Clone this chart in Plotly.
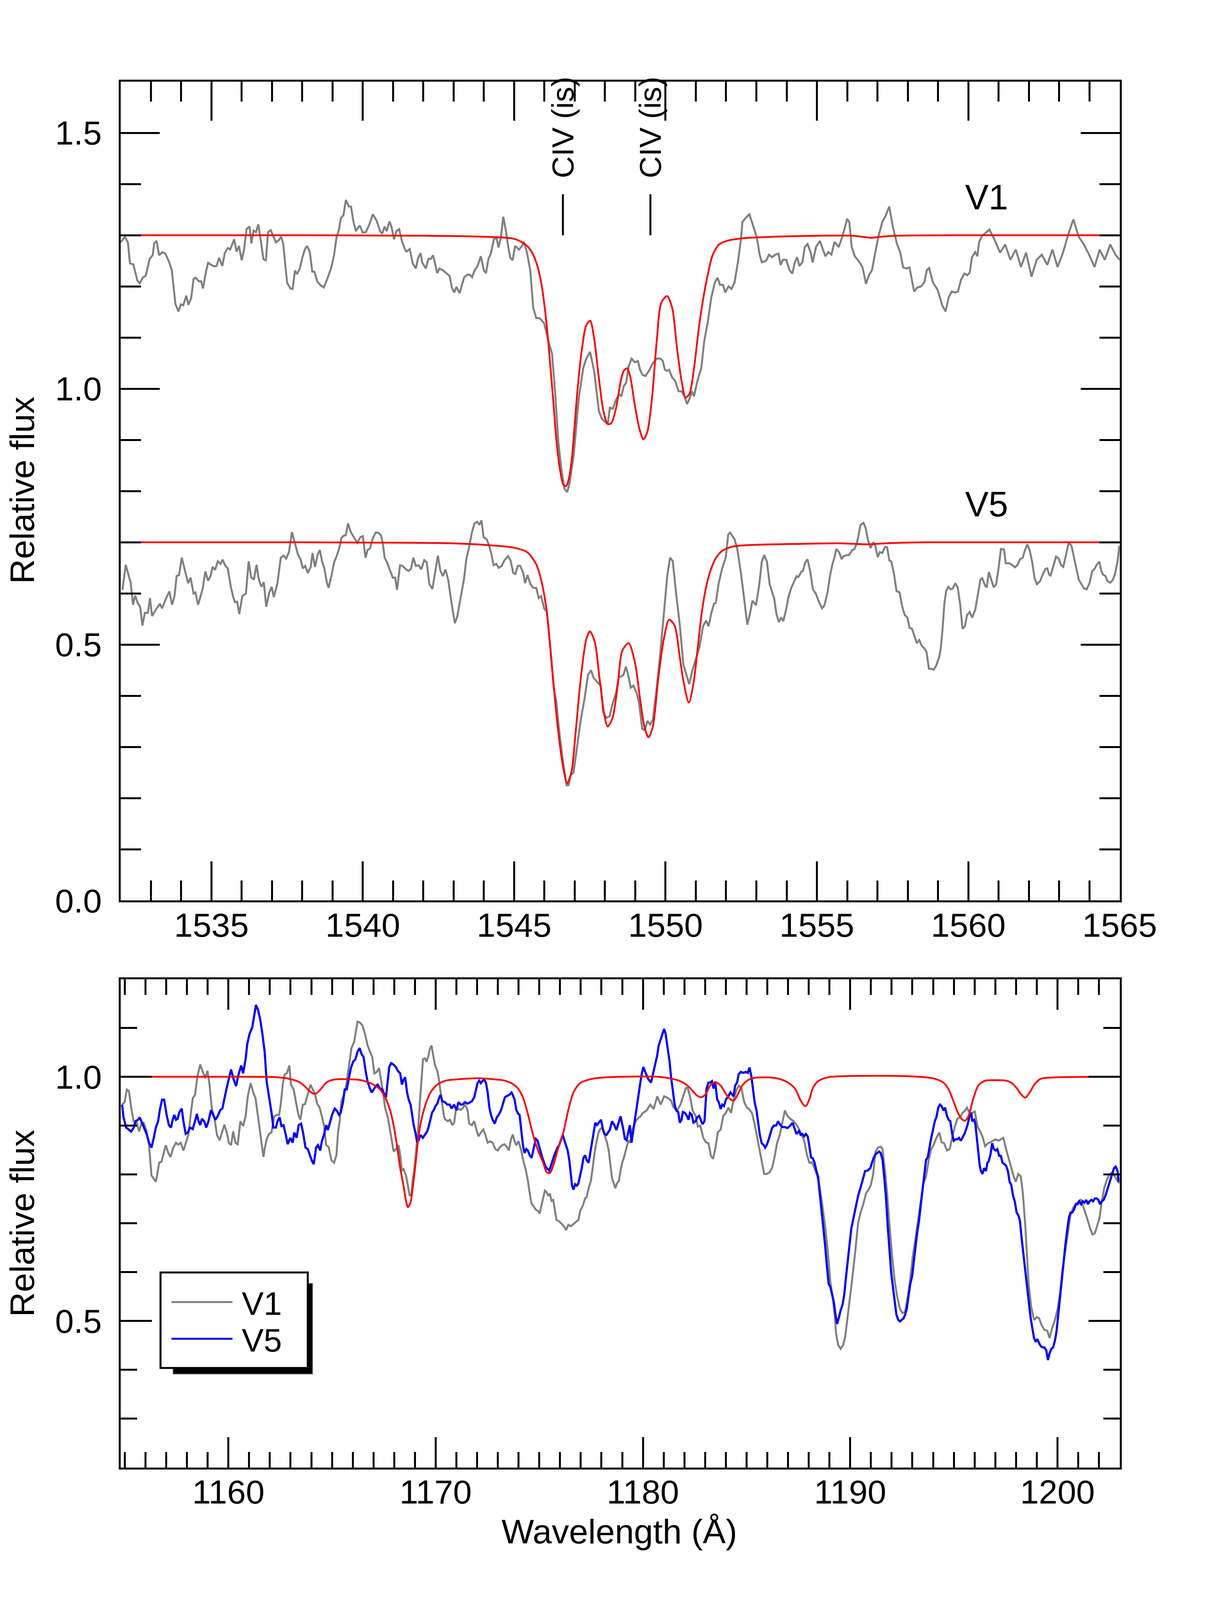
import plotly.graph_objects as go

FONT = "Liberation Sans, Arial, Helvetica, sans-serif"
W, H = 3121, 4370

# ---- upper panel: C IV 1548/1550 region (wavelength, relative flux) ----
civ_v1 = [
    (1532.00, 1.286), (1532.14, 1.297), (1532.24, 1.286), (1532.31, 1.245), (1532.42, 1.243), (1532.55, 1.212),
    (1532.63, 1.206), (1532.73, 1.217), (1532.83, 1.221), (1532.96, 1.254), (1533.06, 1.261), (1533.11, 1.284),
    (1533.19, 1.289), (1533.27, 1.261), (1533.38, 1.267), (1533.48, 1.264), (1533.60, 1.248), (1533.69, 1.232),
    (1533.81, 1.166), (1533.91, 1.151), (1533.99, 1.165), (1534.07, 1.163), (1534.17, 1.182), (1534.24, 1.164),
    (1534.33, 1.177), (1534.41, 1.215), (1534.48, 1.217), (1534.58, 1.210), (1534.66, 1.210), (1534.72, 1.196),
    (1534.82, 1.229), (1534.89, 1.246), (1534.99, 1.242), (1535.10, 1.239), (1535.17, 1.240), (1535.25, 1.256),
    (1535.36, 1.240), (1535.44, 1.265), (1535.54, 1.275), (1535.62, 1.272), (1535.75, 1.292), (1535.83, 1.268),
    (1535.91, 1.279), (1536.00, 1.251), (1536.08, 1.273), (1536.16, 1.312), (1536.26, 1.317), (1536.32, 1.284),
    (1536.39, 1.309), (1536.47, 1.306), (1536.55, 1.321), (1536.65, 1.283), (1536.72, 1.253), (1536.80, 1.251),
    (1536.87, 1.306), (1536.96, 1.310), (1537.06, 1.295), (1537.13, 1.286), (1537.22, 1.290), (1537.30, 1.297),
    (1537.37, 1.284), (1537.50, 1.207), (1537.61, 1.196), (1537.68, 1.195), (1537.76, 1.231), (1537.83, 1.224),
    (1537.92, 1.235), (1538.01, 1.258), (1538.09, 1.273), (1538.16, 1.279), (1538.25, 1.267), (1538.33, 1.229),
    (1538.40, 1.229), (1538.50, 1.209), (1538.61, 1.202), (1538.71, 1.198), (1538.81, 1.212), (1538.95, 1.235),
    (1539.05, 1.261), (1539.13, 1.295), (1539.21, 1.311), (1539.28, 1.334), (1539.36, 1.339), (1539.44, 1.369),
    (1539.54, 1.356), (1539.61, 1.356), (1539.69, 1.327), (1539.77, 1.308), (1539.90, 1.319), (1540.00, 1.305),
    (1540.10, 1.306), (1540.21, 1.320), (1540.33, 1.341), (1540.46, 1.328), (1540.57, 1.308), (1540.64, 1.303),
    (1540.72, 1.317), (1540.79, 1.308), (1540.88, 1.327), (1540.95, 1.316), (1541.03, 1.292), (1541.11, 1.308),
    (1541.20, 1.312), (1541.29, 1.289), (1541.39, 1.273), (1541.44, 1.268), (1541.55, 1.273), (1541.65, 1.245),
    (1541.75, 1.235), (1541.83, 1.256), (1541.91, 1.265), (1541.96, 1.247), (1542.08, 1.235), (1542.17, 1.254),
    (1542.25, 1.254), (1542.32, 1.261), (1542.46, 1.226), (1542.53, 1.235), (1542.66, 1.231), (1542.79, 1.224),
    (1542.87, 1.220), (1542.94, 1.198), (1543.02, 1.188), (1543.09, 1.199), (1543.20, 1.187), (1543.28, 1.204),
    (1543.35, 1.218), (1543.46, 1.223), (1543.53, 1.223), (1543.61, 1.218), (1543.69, 1.231), (1543.79, 1.240),
    (1543.90, 1.259), (1544.00, 1.231), (1544.07, 1.226), (1544.15, 1.254), (1544.23, 1.264), (1544.33, 1.292),
    (1544.42, 1.295), (1544.48, 1.276), (1544.56, 1.295), (1544.64, 1.336), (1544.72, 1.311), (1544.80, 1.279),
    (1544.87, 1.256), (1544.95, 1.251), (1545.03, 1.279), (1545.16, 1.272), (1545.26, 1.279), (1545.32, 1.287),
    (1545.42, 1.267), (1545.53, 1.232), (1545.63, 1.158), (1545.73, 1.138), (1545.84, 1.138), (1545.99, 1.128),
    (1546.15, 1.089), (1546.25, 1.069), (1546.35, 0.995), (1546.46, 0.896), (1546.56, 0.842), (1546.66, 0.805),
    (1546.75, 0.798), (1546.83, 0.815), (1546.97, 0.872), (1547.13, 0.980), (1547.28, 1.040), (1547.38, 1.059),
    (1547.51, 1.072), (1547.64, 1.035), (1547.80, 0.956), (1547.90, 0.941), (1548.00, 0.936), (1548.09, 0.931),
    (1548.16, 0.963), (1548.26, 0.961), (1548.36, 0.978), (1548.47, 0.990), (1548.54, 0.985), (1548.62, 1.005),
    (1548.70, 1.012), (1548.78, 1.044), (1548.88, 1.059), (1548.98, 1.052), (1549.09, 1.054), (1549.16, 1.037),
    (1549.24, 1.027), (1549.34, 1.025), (1549.45, 1.035), (1549.57, 1.049), (1549.71, 1.059), (1549.84, 1.059),
    (1549.91, 1.054), (1549.98, 1.037), (1550.05, 1.035), (1550.12, 1.037), (1550.22, 1.022), (1550.32, 1.015),
    (1550.43, 0.995), (1550.53, 0.995), (1550.63, 0.985), (1550.71, 0.970), (1550.79, 0.980), (1550.87, 0.995),
    (1550.94, 0.985), (1551.05, 1.015), (1551.18, 1.040), (1551.28, 1.094), (1551.39, 1.128), (1551.51, 1.178),
    (1551.63, 1.208), (1551.72, 1.217), (1551.80, 1.203), (1551.90, 1.203), (1551.97, 1.188), (1552.08, 1.200),
    (1552.18, 1.195), (1552.28, 1.208), (1552.39, 1.247), (1552.49, 1.292), (1552.54, 1.326), (1552.65, 1.334),
    (1552.77, 1.341), (1552.90, 1.316), (1553.01, 1.297), (1553.11, 1.262), (1553.18, 1.247), (1553.32, 1.250),
    (1553.42, 1.262), (1553.52, 1.257), (1553.62, 1.262), (1553.73, 1.264), (1553.80, 1.242), (1553.88, 1.252),
    (1553.99, 1.252), (1554.09, 1.232), (1554.19, 1.225), (1554.27, 1.247), (1554.35, 1.257), (1554.42, 1.240),
    (1554.52, 1.247), (1554.60, 1.277), (1554.69, 1.283), (1554.79, 1.267), (1554.86, 1.247), (1554.97, 1.277),
    (1555.10, 1.289), (1555.20, 1.272), (1555.28, 1.259), (1555.38, 1.267), (1555.48, 1.262), (1555.58, 1.287),
    (1555.72, 1.277), (1555.84, 1.297), (1555.95, 1.321), (1556.00, 1.332), (1556.07, 1.326), (1556.15, 1.277),
    (1556.25, 1.259), (1556.41, 1.247), (1556.51, 1.237), (1556.62, 1.205), (1556.72, 1.222), (1556.82, 1.232),
    (1556.93, 1.267), (1557.03, 1.297), (1557.16, 1.326), (1557.27, 1.338), (1557.39, 1.356), (1557.51, 1.316),
    (1557.65, 1.282), (1557.75, 1.267), (1557.85, 1.237), (1557.96, 1.235), (1558.06, 1.237), (1558.21, 1.190),
    (1558.32, 1.198), (1558.44, 1.200), (1558.55, 1.208), (1558.63, 1.232), (1558.71, 1.236), (1558.83, 1.208),
    (1558.99, 1.193), (1559.14, 1.163), (1559.25, 1.151), (1559.35, 1.178), (1559.45, 1.190), (1559.56, 1.188),
    (1559.66, 1.190), (1559.76, 1.213), (1559.87, 1.225), (1559.97, 1.222), (1560.05, 1.227), (1560.12, 1.257),
    (1560.23, 1.267), (1560.30, 1.259), (1560.36, 1.287), (1560.46, 1.299), (1560.70, 1.311), (1560.87, 1.291),
    (1561.05, 1.266), (1561.22, 1.282), (1561.39, 1.252), (1561.57, 1.272), (1561.74, 1.238), (1561.91, 1.266),
    (1562.09, 1.219), (1562.26, 1.252), (1562.43, 1.262), (1562.61, 1.242), (1562.78, 1.272), (1562.95, 1.238),
    (1563.13, 1.266), (1563.30, 1.301), (1563.47, 1.331), (1563.65, 1.297), (1563.82, 1.282), (1563.99, 1.262),
    (1564.17, 1.238), (1564.34, 1.272), (1564.51, 1.252), (1564.69, 1.282), (1564.86, 1.262), (1565.00, 1.252),
]

civ_v5 = [
    (1532.06, 0.607), (1532.17, 0.656), (1532.27, 0.634), (1532.33, 0.622), (1532.41, 0.578), (1532.48, 0.596),
    (1532.56, 0.582), (1532.65, 0.573), (1532.72, 0.537), (1532.80, 0.562), (1532.90, 0.562), (1532.97, 0.591),
    (1533.04, 0.556), (1533.16, 0.568), (1533.30, 0.580), (1533.37, 0.571), (1533.49, 0.589), (1533.61, 0.604),
    (1533.70, 0.578), (1533.78, 0.595), (1533.85, 0.634), (1533.93, 0.636), (1534.02, 0.670), (1534.11, 0.647),
    (1534.23, 0.620), (1534.31, 0.631), (1534.41, 0.600), (1534.47, 0.602), (1534.56, 0.578), (1534.71, 0.609),
    (1534.80, 0.643), (1534.89, 0.625), (1534.97, 0.634), (1535.04, 0.652), (1535.12, 0.646), (1535.21, 0.663),
    (1535.30, 0.658), (1535.37, 0.666), (1535.46, 0.654), (1535.54, 0.649), (1535.64, 0.613), (1535.72, 0.593),
    (1535.78, 0.583), (1535.85, 0.584), (1535.92, 0.560), (1536.02, 0.595), (1536.14, 0.600), (1536.23, 0.663),
    (1536.31, 0.632), (1536.40, 0.627), (1536.49, 0.656), (1536.56, 0.629), (1536.65, 0.613), (1536.73, 0.622),
    (1536.81, 0.574), (1536.91, 0.602), (1536.99, 0.613), (1537.06, 0.593), (1537.18, 0.620), (1537.29, 0.670),
    (1537.39, 0.674), (1537.47, 0.668), (1537.56, 0.681), (1537.66, 0.720), (1537.75, 0.701), (1537.86, 0.676),
    (1537.94, 0.667), (1538.02, 0.649), (1538.10, 0.654), (1538.18, 0.640), (1538.28, 0.652), (1538.34, 0.679),
    (1538.42, 0.652), (1538.51, 0.676), (1538.58, 0.685), (1538.66, 0.661), (1538.73, 0.649), (1538.81, 0.622),
    (1538.87, 0.611), (1538.97, 0.636), (1539.05, 0.661), (1539.13, 0.672), (1539.23, 0.690), (1539.29, 0.708),
    (1539.37, 0.713), (1539.44, 0.714), (1539.51, 0.737), (1539.59, 0.722), (1539.68, 0.712), (1539.77, 0.704),
    (1539.82, 0.699), (1539.92, 0.710), (1540.00, 0.712), (1540.09, 0.670), (1540.16, 0.685), (1540.24, 0.688),
    (1540.32, 0.706), (1540.42, 0.719), (1540.51, 0.719), (1540.60, 0.714), (1540.66, 0.699), (1540.72, 0.670),
    (1540.80, 0.661), (1540.90, 0.645), (1540.99, 0.631), (1541.07, 0.631), (1541.13, 0.607), (1541.23, 0.655),
    (1541.31, 0.654), (1541.43, 0.647), (1541.51, 0.644), (1541.59, 0.648), (1541.67, 0.670), (1541.75, 0.654),
    (1541.85, 0.655), (1541.93, 0.647), (1542.03, 0.665), (1542.11, 0.661), (1542.20, 0.618), (1542.30, 0.609),
    (1542.39, 0.640), (1542.48, 0.674), (1542.56, 0.645), (1542.65, 0.634), (1542.73, 0.647), (1542.82, 0.627),
    (1542.92, 0.586), (1543.04, 0.542), (1543.12, 0.555), (1543.22, 0.586), (1543.34, 0.627), (1543.42, 0.667),
    (1543.51, 0.690), (1543.61, 0.721), (1543.69, 0.737), (1543.78, 0.740), (1543.85, 0.734), (1543.92, 0.743),
    (1543.99, 0.710), (1544.09, 0.706), (1544.17, 0.694), (1544.25, 0.676), (1544.32, 0.655), (1544.41, 0.658),
    (1544.49, 0.650), (1544.59, 0.654), (1544.68, 0.665), (1544.80, 0.673), (1544.88, 0.665), (1544.97, 0.640),
    (1545.04, 0.638), (1545.12, 0.654), (1545.20, 0.654), (1545.30, 0.640), (1545.36, 0.620), (1545.44, 0.636),
    (1545.54, 0.618), (1545.63, 0.611), (1545.73, 0.611), (1545.81, 0.591), (1545.89, 0.595), (1545.99, 0.571),
    (1546.08, 0.564), (1546.19, 0.497), (1546.31, 0.414), (1546.39, 0.389), (1546.49, 0.330), (1546.61, 0.272),
    (1546.73, 0.225), (1546.79, 0.225), (1546.87, 0.245), (1546.96, 0.250), (1547.08, 0.299), (1547.20, 0.353),
    (1547.32, 0.393), (1547.44, 0.441), (1547.54, 0.450), (1547.62, 0.436), (1547.74, 0.427), (1547.86, 0.420),
    (1547.94, 0.369), (1548.04, 0.357), (1548.15, 0.360), (1548.25, 0.384), (1548.37, 0.407), (1548.45, 0.436),
    (1548.54, 0.438), (1548.61, 0.441), (1548.69, 0.457), (1548.75, 0.445), (1548.85, 0.416), (1548.94, 0.420),
    (1549.05, 0.405), (1549.13, 0.384), (1549.23, 0.335), (1549.32, 0.333), (1549.40, 0.351), (1549.49, 0.344),
    (1549.58, 0.353), (1549.70, 0.411), (1549.82, 0.479), (1549.94, 0.560), (1550.06, 0.636), (1550.15, 0.670),
    (1550.24, 0.663), (1550.35, 0.599), (1550.47, 0.539), (1550.59, 0.461), (1550.68, 0.442), (1550.78, 0.423),
    (1550.88, 0.448), (1551.00, 0.470), (1551.12, 0.495), (1551.24, 0.536), (1551.34, 0.547), (1551.42, 0.536),
    (1551.51, 0.561), (1551.60, 0.580), (1551.66, 0.582), (1551.75, 0.618), (1551.87, 0.649), (1551.99, 0.671),
    (1552.07, 0.715), (1552.13, 0.719), (1552.28, 0.706), (1552.37, 0.687), (1552.49, 0.640), (1552.59, 0.593),
    (1552.70, 0.539), (1552.79, 0.561), (1552.87, 0.586), (1552.99, 0.577), (1553.09, 0.615), (1553.18, 0.662),
    (1553.26, 0.675), (1553.35, 0.662), (1553.44, 0.618), (1553.54, 0.599), (1553.59, 0.590), (1553.66, 0.561),
    (1553.74, 0.544), (1553.82, 0.553), (1553.89, 0.546), (1553.98, 0.568), (1554.06, 0.593), (1554.16, 0.612),
    (1554.25, 0.624), (1554.33, 0.634), (1554.39, 0.632), (1554.49, 0.643), (1554.54, 0.644), (1554.61, 0.660),
    (1554.69, 0.667), (1554.78, 0.643), (1554.87, 0.608), (1554.97, 0.599), (1555.05, 0.586), (1555.17, 0.571),
    (1555.25, 0.577), (1555.35, 0.602), (1555.44, 0.637), (1555.52, 0.659), (1555.58, 0.670), (1555.64, 0.687),
    (1555.73, 0.681), (1555.82, 0.667), (1555.88, 0.673), (1556.00, 0.675), (1556.06, 0.675), (1556.16, 0.684),
    (1556.24, 0.687), (1556.30, 0.695), (1556.36, 0.709), (1556.44, 0.734), (1556.54, 0.738), (1556.61, 0.728),
    (1556.68, 0.706), (1556.77, 0.689), (1556.87, 0.700), (1556.93, 0.693), (1557.01, 0.671), (1557.08, 0.681),
    (1557.16, 0.679), (1557.25, 0.691), (1557.32, 0.690), (1557.39, 0.665), (1557.46, 0.662), (1557.55, 0.637),
    (1557.63, 0.605), (1557.73, 0.602), (1557.82, 0.574), (1557.90, 0.558), (1557.99, 0.553), (1558.06, 0.533),
    (1558.14, 0.531), (1558.23, 0.514), (1558.30, 0.503), (1558.38, 0.509), (1558.46, 0.498), (1558.56, 0.492),
    (1558.62, 0.486), (1558.70, 0.453), (1558.77, 0.453), (1558.86, 0.451), (1558.94, 0.459), (1559.04, 0.476),
    (1559.09, 0.492), (1559.15, 0.530), (1559.21, 0.580), (1559.27, 0.605), (1559.34, 0.613), (1559.42, 0.608),
    (1559.49, 0.610), (1559.57, 0.620), (1559.65, 0.612), (1559.73, 0.580), (1559.81, 0.531), (1559.89, 0.536),
    (1559.96, 0.558), (1560.05, 0.564), (1560.13, 0.553), (1560.23, 0.568), (1560.32, 0.599), (1560.40, 0.627),
    (1560.46, 0.630), (1560.56, 0.615), (1560.61, 0.612), (1560.68, 0.642), (1560.76, 0.627), (1560.84, 0.612),
    (1560.92, 0.618), (1561.00, 0.649), (1561.08, 0.687), (1561.18, 0.686), (1561.24, 0.659), (1561.36, 0.659),
    (1561.44, 0.656), (1561.54, 0.651), (1561.63, 0.656), (1561.71, 0.667), (1561.80, 0.670), (1561.87, 0.684),
    (1561.95, 0.696), (1562.03, 0.684), (1562.11, 0.662), (1562.19, 0.630), (1562.27, 0.618), (1562.37, 0.624),
    (1562.46, 0.637), (1562.55, 0.648), (1562.61, 0.649), (1562.67, 0.637), (1562.72, 0.635), (1562.82, 0.656),
    (1562.90, 0.672), (1562.99, 0.668), (1563.06, 0.656), (1563.14, 0.652), (1563.23, 0.675), (1563.32, 0.700),
    (1563.41, 0.693), (1563.50, 0.668), (1563.58, 0.643), (1563.65, 0.627), (1563.74, 0.618), (1563.82, 0.610),
    (1563.91, 0.608), (1564.01, 0.621), (1564.09, 0.643), (1564.18, 0.649), (1564.25, 0.657), (1564.33, 0.662),
    (1564.39, 0.645), (1564.45, 0.637), (1564.53, 0.634), (1564.60, 0.624), (1564.69, 0.621), (1564.77, 0.626),
    (1564.84, 0.637), (1564.93, 0.662), (1564.99, 0.693),
]

civ_v1_model = [
    (1532.00, 1.300), (1537.00, 1.300), (1542.00, 1.299), (1544.00, 1.297), (1545.00, 1.293), (1545.32, 1.284),
    (1545.53, 1.272), (1545.73, 1.247), (1545.89, 1.208), (1545.99, 1.168), (1546.10, 1.109), (1546.20, 1.040),
    (1546.30, 0.970), (1546.40, 0.896), (1546.52, 0.840), (1546.63, 0.812), (1546.72, 0.810), (1546.82, 0.828),
    (1546.92, 0.872), (1547.08, 0.990), (1547.23, 1.074), (1547.38, 1.124), (1547.51, 1.133), (1547.64, 1.099),
    (1547.80, 1.020), (1547.95, 0.956), (1548.09, 0.931), (1548.21, 0.933), (1548.36, 0.961), (1548.52, 1.015),
    (1548.62, 1.035), (1548.73, 1.040), (1548.83, 1.025), (1548.98, 0.970), (1549.14, 0.921), (1549.27, 0.901),
    (1549.40, 0.916), (1549.55, 0.980), (1549.71, 1.094), (1549.86, 1.168), (1550.05, 1.181), (1550.22, 1.158),
    (1550.38, 1.079), (1550.53, 1.015), (1550.66, 0.983), (1550.79, 0.990), (1550.94, 1.040), (1551.10, 1.119),
    (1551.25, 1.178), (1551.41, 1.227), (1551.56, 1.262), (1551.77, 1.282), (1552.03, 1.289), (1552.54, 1.294),
    (1553.57, 1.297), (1555.00, 1.299), (1556.20, 1.299), (1556.50, 1.297), (1556.77, 1.295), (1557.10, 1.297),
    (1557.60, 1.299), (1560.00, 1.300), (1565.00, 1.300),
]

civ_v5_model = [
    (1532.00, 0.700), (1538.00, 0.700), (1543.00, 0.698), (1544.00, 0.695), (1544.94, 0.690), (1545.42, 0.681),
    (1545.72, 0.658), (1545.89, 0.627), (1546.07, 0.568), (1546.25, 0.456), (1546.43, 0.344), (1546.61, 0.263),
    (1546.75, 0.229), (1546.90, 0.254), (1547.02, 0.322), (1547.20, 0.434), (1547.38, 0.510), (1547.50, 0.526),
    (1547.66, 0.506), (1547.82, 0.434), (1547.98, 0.362), (1548.09, 0.340), (1548.25, 0.357), (1548.42, 0.420),
    (1548.57, 0.488), (1548.78, 0.503), (1548.99, 0.465), (1549.17, 0.389), (1549.32, 0.335), (1549.44, 0.319),
    (1549.58, 0.340), (1549.76, 0.434), (1549.94, 0.510), (1550.12, 0.549), (1550.30, 0.537), (1550.47, 0.476),
    (1550.59, 0.429), (1550.77, 0.387), (1550.92, 0.423), (1551.06, 0.492), (1551.20, 0.564), (1551.36, 0.618),
    (1551.51, 0.649), (1551.68, 0.671), (1551.89, 0.684), (1552.25, 0.692), (1552.97, 0.695), (1554.51, 0.697),
    (1555.82, 0.698), (1556.66, 0.696), (1557.25, 0.698), (1558.68, 0.700), (1565.00, 0.700),
]

# interstellar C IV marks and star labels
is_marks = [1546.61, 1549.50]
is_text = "CIV (is)"
star_labels = [("V1", 1560.6, 1.374), ("V5", 1560.6, 0.774)]

# ---- lower panel: 1155-1203 A region ----
far_v1 = [
    (1154.87, 0.943), (1154.99, 0.948), (1155.10, 0.974), (1155.20, 0.971), (1155.31, 0.937), (1155.43, 0.909),
    (1155.56, 0.909), (1155.69, 0.888), (1155.80, 0.904), (1155.91, 0.906), (1156.04, 0.891), (1156.17, 0.860),
    (1156.29, 0.798), (1156.40, 0.792), (1156.50, 0.785), (1156.56, 0.798), (1156.66, 0.824), (1156.77, 0.826),
    (1156.89, 0.847), (1156.98, 0.860), (1157.10, 0.844), (1157.21, 0.836), (1157.34, 0.855), (1157.47, 0.865),
    (1157.58, 0.861), (1157.70, 0.865), (1157.83, 0.849), (1157.96, 0.868), (1158.07, 0.881), (1158.18, 0.922),
    (1158.28, 0.956), (1158.39, 0.963), (1158.51, 1.002), (1158.64, 1.025), (1158.77, 1.010), (1158.88, 0.997),
    (1158.99, 1.012), (1159.09, 0.984), (1159.20, 0.935), (1159.32, 0.917), (1159.45, 0.881), (1159.58, 0.870),
    (1159.69, 0.886), (1159.81, 0.902), (1159.94, 0.883), (1160.02, 0.865), (1160.13, 0.860), (1160.23, 0.888),
    (1160.34, 0.865), (1160.45, 0.862), (1160.58, 0.909), (1160.71, 0.899), (1160.83, 0.919), (1160.94, 0.961),
    (1161.07, 0.987), (1161.20, 0.968), (1161.31, 0.956), (1161.40, 0.927), (1161.53, 0.886), (1161.61, 0.860),
    (1161.69, 0.836), (1161.75, 0.852), (1161.85, 0.873), (1161.96, 0.883), (1162.08, 0.886), (1162.21, 0.919),
    (1162.34, 0.922), (1162.45, 0.922), (1162.53, 0.945), (1162.63, 0.987), (1162.72, 1.005), (1162.82, 1.007),
    (1162.94, 1.023), (1163.02, 0.984), (1163.15, 0.974), (1163.26, 0.948), (1163.38, 0.922), (1163.47, 0.912),
    (1163.59, 0.943), (1163.70, 0.944), (1163.83, 0.963), (1163.96, 0.984), (1164.07, 0.974), (1164.19, 0.963),
    (1164.28, 0.945), (1164.40, 0.937), (1164.51, 0.919), (1164.61, 0.901), (1164.72, 0.860), (1164.84, 0.856),
    (1164.97, 0.829), (1165.10, 0.824), (1165.21, 0.839), (1165.29, 0.886), (1165.37, 0.909), (1165.45, 0.950),
    (1165.58, 0.963), (1165.70, 0.987), (1165.78, 1.012), (1165.86, 1.036), (1165.94, 1.059), (1166.07, 1.072),
    (1166.13, 1.090), (1166.23, 1.113), (1166.34, 1.111), (1166.46, 1.106), (1166.59, 1.088), (1166.72, 1.064),
    (1166.83, 1.051), (1166.94, 1.041), (1167.04, 1.007), (1167.16, 1.010), (1167.27, 1.018), (1167.37, 0.994),
    (1167.48, 0.963), (1167.56, 0.937), (1167.69, 0.917), (1167.80, 0.891), (1167.89, 0.865), (1167.97, 0.847),
    (1168.08, 0.852), (1168.21, 0.860), (1168.29, 0.839), (1168.37, 0.808), (1168.45, 0.811), (1168.57, 0.798),
    (1168.66, 0.777), (1168.75, 0.756), (1168.83, 0.759), (1168.89, 0.787), (1168.99, 0.818), (1169.07, 0.855),
    (1169.15, 0.891), (1169.23, 0.943), (1169.31, 0.989), (1169.39, 1.036), (1169.48, 1.038), (1169.56, 1.031),
    (1169.64, 1.041), (1169.72, 1.057), (1169.80, 1.064), (1169.88, 1.046), (1169.96, 1.025), (1170.08, 1.012),
    (1170.16, 0.994), (1170.24, 0.968), (1170.32, 0.943), (1170.40, 0.919), (1170.48, 0.912), (1170.59, 0.909),
    (1170.69, 0.912), (1170.81, 0.901), (1170.89, 0.906), (1170.97, 0.930), (1171.10, 0.935), (1171.21, 0.932),
    (1171.29, 0.935), (1171.42, 0.943), (1171.54, 0.932), (1171.62, 0.904), (1171.75, 0.901), (1171.86, 0.909),
    (1171.97, 0.891), (1172.07, 0.878), (1172.18, 0.886), (1172.30, 0.892), (1172.40, 0.881), (1172.51, 0.865),
    (1172.62, 0.868), (1172.75, 0.865), (1172.88, 0.852), (1173.00, 0.849), (1173.08, 0.855), (1173.21, 0.860),
    (1173.32, 0.862), (1173.43, 0.857), (1173.53, 0.849), (1173.64, 0.873), (1173.72, 0.882), (1173.81, 0.868),
    (1173.89, 0.860), (1174.00, 0.868), (1174.13, 0.849), (1174.24, 0.826), (1174.34, 0.811), (1174.45, 0.787),
    (1174.54, 0.761), (1174.62, 0.741), (1174.70, 0.736), (1174.83, 0.728), (1174.94, 0.725), (1175.02, 0.720),
    (1175.10, 0.736), (1175.19, 0.751), (1175.27, 0.767), (1175.35, 0.764), (1175.43, 0.756), (1175.51, 0.761),
    (1175.59, 0.746), (1175.67, 0.748), (1175.75, 0.730), (1175.83, 0.707), (1175.96, 0.704), (1176.08, 0.699),
    (1176.19, 0.694), (1176.29, 0.686), (1176.40, 0.697), (1176.52, 0.694), (1176.65, 0.699), (1176.78, 0.704),
    (1176.89, 0.707), (1176.97, 0.725), (1177.10, 0.736), (1177.21, 0.751), (1177.29, 0.754), (1177.38, 0.772),
    (1177.49, 0.787), (1177.59, 0.818), (1177.65, 0.839), (1177.75, 0.865), (1177.86, 0.886), (1177.94, 0.893),
    (1178.02, 0.896), (1178.11, 0.886), (1178.19, 0.875), (1178.27, 0.865), (1178.35, 0.849), (1178.43, 0.818),
    (1178.51, 0.792), (1178.59, 0.782), (1178.67, 0.772), (1178.75, 0.782), (1178.84, 0.787), (1178.92, 0.808),
    (1179.00, 0.824), (1179.08, 0.834), (1179.16, 0.849), (1179.24, 0.860), (1179.32, 0.870), (1179.40, 0.865),
    (1179.49, 0.891), (1179.57, 0.901), (1179.70, 0.912), (1179.81, 0.917), (1179.89, 0.919), (1179.97, 0.925),
    (1180.18, 0.931), (1180.35, 0.943), (1180.52, 0.934), (1180.69, 0.960), (1180.86, 0.943), (1181.02, 0.960),
    (1181.19, 0.957), (1181.36, 0.951), (1181.48, 0.937), (1181.65, 0.931), (1181.81, 0.943), (1181.93, 0.960),
    (1182.07, 0.977), (1182.15, 0.978), (1182.27, 0.960), (1182.40, 0.931), (1182.54, 0.920), (1182.65, 0.898),
    (1182.77, 0.900), (1182.91, 0.875), (1183.04, 0.866), (1183.16, 0.864), (1183.28, 0.838), (1183.38, 0.832),
    (1183.49, 0.852), (1183.61, 0.886), (1183.75, 0.892), (1183.88, 0.920), (1184.00, 0.926), (1184.12, 0.937),
    (1184.25, 0.926), (1184.38, 0.954), (1184.50, 0.971), (1184.62, 0.982), (1184.75, 0.977), (1184.89, 0.948),
    (1185.01, 0.937), (1185.12, 0.934), (1185.26, 0.926), (1185.39, 0.903), (1185.51, 0.875), (1185.63, 0.847),
    (1185.73, 0.824), (1185.85, 0.801), (1185.96, 0.801), (1186.10, 0.804), (1186.23, 0.813), (1186.35, 0.835),
    (1186.47, 0.864), (1186.60, 0.881), (1186.74, 0.909), (1186.85, 0.931), (1186.97, 0.920), (1187.11, 0.914),
    (1187.27, 0.909), (1187.44, 0.900), (1187.61, 0.886), (1187.78, 0.869), (1187.91, 0.841), (1188.03, 0.824),
    (1188.15, 0.825), (1188.28, 0.813), (1188.42, 0.796), (1188.53, 0.773), (1188.65, 0.739), (1188.79, 0.694),
    (1188.92, 0.643), (1189.04, 0.581), (1189.16, 0.547), (1189.26, 0.508), (1189.32, 0.474), (1189.42, 0.451),
    (1189.54, 0.443), (1189.66, 0.451), (1189.76, 0.468), (1189.88, 0.508), (1190.00, 0.553), (1190.13, 0.598),
    (1190.26, 0.649), (1190.38, 0.700), (1190.50, 0.722), (1190.63, 0.739), (1190.77, 0.762), (1190.89, 0.769),
    (1191.00, 0.779), (1191.11, 0.801), (1191.22, 0.847), (1191.34, 0.855), (1191.48, 0.857), (1191.56, 0.852),
    (1191.68, 0.807), (1191.78, 0.762), (1191.89, 0.700), (1192.01, 0.638), (1192.15, 0.581), (1192.28, 0.547),
    (1192.40, 0.525), (1192.52, 0.516), (1192.65, 0.519), (1192.79, 0.553), (1192.90, 0.587), (1193.02, 0.632),
    (1193.16, 0.672), (1193.29, 0.711), (1193.41, 0.751), (1193.52, 0.779), (1193.66, 0.796), (1193.79, 0.830),
    (1193.91, 0.852), (1194.03, 0.861), (1194.16, 0.875), (1194.30, 0.886), (1194.41, 0.866), (1194.53, 0.864),
    (1194.67, 0.849), (1194.80, 0.852), (1194.92, 0.875), (1195.04, 0.897), (1195.17, 0.914), (1195.30, 0.917),
    (1195.42, 0.926), (1195.54, 0.931), (1195.64, 0.937), (1195.76, 0.926), (1195.88, 0.926), (1196.01, 0.929),
    (1196.15, 0.897), (1196.26, 0.889), (1196.38, 0.878), (1196.51, 0.858), (1196.65, 0.864), (1196.77, 0.866),
    (1196.88, 0.869), (1197.02, 0.872), (1197.15, 0.869), (1197.27, 0.872), (1197.39, 0.875), (1197.52, 0.852),
    (1197.66, 0.830), (1197.77, 0.813), (1197.89, 0.796), (1197.99, 0.785), (1198.11, 0.801), (1198.23, 0.796),
    (1198.33, 0.762), (1198.45, 0.694), (1198.53, 0.626), (1198.61, 0.576), (1198.73, 0.530), (1198.87, 0.502),
    (1199.00, 0.508), (1199.12, 0.505), (1199.24, 0.491), (1199.37, 0.482), (1199.51, 0.480), (1199.62, 0.465),
    (1199.74, 0.485), (1199.88, 0.502), (1200.01, 0.525), (1200.13, 0.558), (1200.24, 0.604), (1200.38, 0.643),
    (1200.51, 0.683), (1200.63, 0.717), (1200.75, 0.731), (1200.88, 0.739), (1201.02, 0.745), (1201.13, 0.748),
    (1201.25, 0.734), (1201.35, 0.722), (1201.47, 0.705), (1201.59, 0.688), (1201.69, 0.677), (1201.81, 0.680),
    (1201.92, 0.694), (1202.03, 0.711), (1202.14, 0.745), (1202.26, 0.773), (1202.39, 0.790), (1202.53, 0.801),
    (1202.65, 0.804), (1202.76, 0.796), (1202.90, 0.787), (1202.98, 0.782),
]

far_v5 = [
    (1154.87, 0.943), (1154.94, 0.917), (1155.07, 0.896), (1155.20, 0.891), (1155.31, 0.888), (1155.43, 0.896),
    (1155.52, 0.909), (1155.64, 0.912), (1155.72, 0.917), (1155.85, 0.904), (1155.96, 0.891), (1156.07, 0.881),
    (1156.17, 0.865), (1156.29, 0.855), (1156.40, 0.875), (1156.50, 0.896), (1156.61, 0.909), (1156.69, 0.932),
    (1156.80, 0.953), (1156.90, 0.953), (1157.02, 0.922), (1157.13, 0.901), (1157.23, 0.896), (1157.31, 0.912),
    (1157.39, 0.922), (1157.47, 0.912), (1157.55, 0.914), (1157.63, 0.927), (1157.75, 0.935), (1157.83, 0.909),
    (1157.94, 0.883), (1158.04, 0.886), (1158.15, 0.896), (1158.28, 0.893), (1158.39, 0.909), (1158.48, 0.924),
    (1158.56, 0.909), (1158.64, 0.901), (1158.72, 0.914), (1158.83, 0.909), (1158.93, 0.896), (1159.04, 0.909),
    (1159.16, 0.932), (1159.26, 0.922), (1159.37, 0.912), (1159.48, 0.919), (1159.61, 0.932), (1159.71, 0.935),
    (1159.81, 0.958), (1159.90, 0.974), (1160.00, 0.992), (1160.13, 1.015), (1160.26, 0.994), (1160.37, 0.981),
    (1160.49, 1.005), (1160.62, 1.023), (1160.71, 1.007), (1160.83, 1.036), (1160.91, 1.067), (1161.02, 1.088),
    (1161.15, 1.101), (1161.23, 1.124), (1161.33, 1.147), (1161.43, 1.137), (1161.53, 1.119), (1161.64, 1.088),
    (1161.75, 1.051), (1161.85, 0.989), (1161.92, 0.971), (1162.01, 0.950), (1162.08, 0.927), (1162.17, 0.896),
    (1162.29, 0.896), (1162.37, 0.909), (1162.47, 0.917), (1162.56, 0.899), (1162.66, 0.901), (1162.77, 0.881),
    (1162.86, 0.862), (1162.99, 0.875), (1163.10, 0.865), (1163.18, 0.886), (1163.29, 0.875), (1163.39, 0.901),
    (1163.51, 0.904), (1163.60, 0.886), (1163.72, 0.855), (1163.83, 0.852), (1163.93, 0.839), (1164.02, 0.829),
    (1164.12, 0.821), (1164.23, 0.855), (1164.32, 0.860), (1164.43, 0.849), (1164.51, 0.868), (1164.61, 0.881),
    (1164.72, 0.901), (1164.80, 0.891), (1164.90, 0.906), (1165.00, 0.922), (1165.13, 0.935), (1165.24, 0.930),
    (1165.34, 0.922), (1165.42, 0.927), (1165.53, 0.948), (1165.61, 0.974), (1165.71, 0.974), (1165.81, 0.999),
    (1165.91, 1.018), (1166.02, 1.031), (1166.13, 1.036), (1166.23, 1.051), (1166.33, 1.059), (1166.43, 1.046),
    (1166.52, 1.041), (1166.62, 1.012), (1166.72, 0.989), (1166.83, 0.976), (1166.91, 0.968), (1167.01, 0.974),
    (1167.11, 0.981), (1167.20, 0.984), (1167.32, 0.976), (1167.43, 0.974), (1167.53, 0.963), (1167.61, 0.961),
    (1167.69, 0.994), (1167.76, 1.020), (1167.85, 1.028), (1167.97, 1.025), (1168.08, 1.020), (1168.18, 1.012),
    (1168.29, 1.007), (1168.37, 0.984), (1168.45, 0.994), (1168.53, 0.999), (1168.62, 0.968), (1168.70, 0.953),
    (1168.79, 0.943), (1168.86, 0.922), (1168.94, 0.901), (1169.02, 0.886), (1169.10, 0.868), (1169.18, 0.870),
    (1169.26, 0.881), (1169.38, 0.875), (1169.48, 0.881), (1169.59, 0.888), (1169.67, 0.899), (1169.75, 0.912),
    (1169.83, 0.927), (1169.91, 0.932), (1169.99, 0.940), (1170.08, 0.945), (1170.16, 0.956), (1170.24, 0.963),
    (1170.32, 0.950), (1170.45, 0.948), (1170.56, 0.943), (1170.68, 0.943), (1170.77, 0.935), (1170.89, 0.943),
    (1171.00, 0.932), (1171.10, 0.948), (1171.21, 0.943), (1171.29, 0.943), (1171.42, 0.948), (1171.54, 0.945),
    (1171.65, 0.948), (1171.75, 0.950), (1171.86, 0.958), (1171.94, 0.971), (1172.02, 0.987), (1172.10, 0.992),
    (1172.18, 0.987), (1172.27, 0.992), (1172.35, 0.994), (1172.43, 0.987), (1172.51, 0.968), (1172.59, 0.937),
    (1172.67, 0.922), (1172.75, 0.912), (1172.85, 0.904), (1172.95, 0.917), (1173.04, 0.922), (1173.16, 0.932),
    (1173.24, 0.945), (1173.34, 0.958), (1173.45, 0.961), (1173.56, 0.963), (1173.66, 0.968), (1173.72, 0.963),
    (1173.81, 0.953), (1173.89, 0.932), (1173.99, 0.924), (1174.05, 0.922), (1174.13, 0.891), (1174.21, 0.860),
    (1174.29, 0.844), (1174.37, 0.852), (1174.45, 0.849), (1174.54, 0.839), (1174.63, 0.834), (1174.73, 0.855),
    (1174.83, 0.873), (1174.91, 0.870), (1174.99, 0.857), (1175.07, 0.844), (1175.15, 0.834), (1175.23, 0.824),
    (1175.31, 0.816), (1175.40, 0.811), (1175.48, 0.808), (1175.56, 0.818), (1175.64, 0.829), (1175.72, 0.839),
    (1175.80, 0.847), (1175.88, 0.855), (1175.96, 0.860), (1176.05, 0.873), (1176.13, 0.881), (1176.21, 0.870),
    (1176.29, 0.860), (1176.37, 0.849), (1176.45, 0.829), (1176.52, 0.798), (1176.58, 0.777), (1176.65, 0.769),
    (1176.73, 0.780), (1176.81, 0.777), (1176.89, 0.782), (1176.97, 0.798), (1177.05, 0.813), (1177.13, 0.834),
    (1177.21, 0.839), (1177.29, 0.829), (1177.38, 0.824), (1177.46, 0.844), (1177.54, 0.865), (1177.62, 0.891),
    (1177.70, 0.906), (1177.78, 0.901), (1177.88, 0.906), (1177.98, 0.912), (1178.07, 0.893), (1178.15, 0.883),
    (1178.24, 0.881), (1178.32, 0.886), (1178.40, 0.891), (1178.51, 0.909), (1178.62, 0.901), (1178.72, 0.891),
    (1178.84, 0.909), (1178.92, 0.919), (1179.05, 0.893), (1179.13, 0.873), (1179.21, 0.870), (1179.29, 0.888),
    (1179.37, 0.901), (1179.45, 0.865), (1179.53, 0.891), (1179.61, 0.912), (1179.70, 0.937), (1179.78, 0.963),
    (1179.86, 0.984), (1179.94, 1.005), (1180.02, 1.020), (1180.13, 1.008), (1180.25, 0.996), (1180.39, 0.988),
    (1180.47, 1.002), (1180.59, 1.022), (1180.69, 1.044), (1180.76, 1.064), (1180.86, 1.078), (1180.94, 1.087),
    (1181.02, 1.098), (1181.09, 1.089), (1181.19, 1.061), (1181.28, 1.033), (1181.36, 0.999), (1181.44, 0.971),
    (1181.53, 0.943), (1181.61, 0.931), (1181.70, 0.928), (1181.78, 0.906), (1181.86, 0.912), (1181.93, 0.928),
    (1182.03, 0.926), (1182.12, 0.920), (1182.20, 0.912), (1182.27, 0.926), (1182.35, 0.923), (1182.44, 0.906),
    (1182.54, 0.909), (1182.62, 0.917), (1182.71, 0.920), (1182.79, 0.912), (1182.87, 0.903), (1182.97, 0.909),
    (1183.07, 0.976), (1183.16, 0.988), (1183.24, 0.988), (1183.33, 0.991), (1183.41, 0.976), (1183.49, 0.988),
    (1183.58, 0.954), (1183.66, 0.948), (1183.75, 0.934), (1183.83, 0.943), (1183.91, 0.940), (1184.01, 0.954),
    (1184.12, 0.960), (1184.22, 0.968), (1184.28, 0.965), (1184.37, 0.960), (1184.45, 0.982), (1184.54, 0.988),
    (1184.62, 1.005), (1184.72, 1.010), (1184.84, 1.008), (1184.96, 1.010), (1185.06, 1.008), (1185.14, 1.019),
    (1185.23, 1.002), (1185.31, 0.976), (1185.39, 0.948), (1185.48, 0.931), (1185.56, 0.903), (1185.64, 0.881),
    (1185.73, 0.864), (1185.81, 0.861), (1185.90, 0.855), (1185.98, 0.861), (1186.07, 0.872), (1186.15, 0.883),
    (1186.23, 0.895), (1186.32, 0.900), (1186.43, 0.900), (1186.52, 0.909), (1186.60, 0.903), (1186.72, 0.897),
    (1186.85, 0.897), (1186.97, 0.895), (1187.11, 0.900), (1187.22, 0.906), (1187.31, 0.895), (1187.41, 0.883),
    (1187.53, 0.889), (1187.61, 0.881), (1187.69, 0.883), (1187.78, 0.878), (1187.86, 0.883), (1187.95, 0.878),
    (1188.03, 0.858), (1188.11, 0.835), (1188.20, 0.833), (1188.28, 0.824), (1188.37, 0.807), (1188.45, 0.796),
    (1188.53, 0.762), (1188.62, 0.728), (1188.70, 0.694), (1188.79, 0.655), (1188.87, 0.615), (1188.96, 0.576),
    (1189.04, 0.570), (1189.12, 0.553), (1189.21, 0.539), (1189.29, 0.513), (1189.37, 0.494), (1189.46, 0.508),
    (1189.54, 0.522), (1189.63, 0.533), (1189.71, 0.553), (1189.79, 0.587), (1189.88, 0.621), (1189.96, 0.655),
    (1190.05, 0.688), (1190.13, 0.705), (1190.26, 0.734), (1190.38, 0.756), (1190.50, 0.773), (1190.60, 0.790),
    (1190.72, 0.807), (1190.84, 0.808), (1190.97, 0.813), (1191.05, 0.824), (1191.14, 0.835), (1191.22, 0.841),
    (1191.31, 0.844), (1191.39, 0.847), (1191.47, 0.844), (1191.56, 0.830), (1191.64, 0.796), (1191.73, 0.751),
    (1191.81, 0.694), (1191.89, 0.649), (1191.98, 0.598), (1192.06, 0.570), (1192.15, 0.542), (1192.23, 0.513),
    (1192.32, 0.502), (1192.40, 0.499), (1192.48, 0.502), (1192.57, 0.505), (1192.65, 0.513), (1192.73, 0.525),
    (1192.82, 0.553), (1192.90, 0.576), (1192.99, 0.592), (1193.07, 0.626), (1193.16, 0.655), (1193.24, 0.683),
    (1193.32, 0.705), (1193.41, 0.739), (1193.49, 0.767), (1193.58, 0.801), (1193.66, 0.830), (1193.74, 0.835),
    (1193.83, 0.858), (1193.91, 0.875), (1194.00, 0.892), (1194.08, 0.909), (1194.16, 0.917), (1194.25, 0.937),
    (1194.33, 0.943), (1194.41, 0.940), (1194.50, 0.931), (1194.58, 0.937), (1194.67, 0.920), (1194.75, 0.912),
    (1194.83, 0.909), (1194.92, 0.883), (1195.00, 0.869), (1195.09, 0.872), (1195.17, 0.872), (1195.25, 0.875),
    (1195.34, 0.869), (1195.42, 0.875), (1195.51, 0.883), (1195.59, 0.892), (1195.67, 0.903), (1195.76, 0.920),
    (1195.84, 0.926), (1195.89, 0.909), (1195.98, 0.912), (1196.04, 0.903), (1196.11, 0.875), (1196.18, 0.847),
    (1196.25, 0.818), (1196.31, 0.807), (1196.38, 0.801), (1196.46, 0.813), (1196.55, 0.807), (1196.62, 0.824),
    (1196.68, 0.827), (1196.77, 0.841), (1196.85, 0.864), (1196.93, 0.852), (1197.02, 0.849), (1197.10, 0.852),
    (1197.19, 0.838), (1197.27, 0.838), (1197.35, 0.824), (1197.44, 0.821), (1197.52, 0.818), (1197.61, 0.807),
    (1197.69, 0.785), (1197.77, 0.779), (1197.86, 0.756), (1197.94, 0.745), (1198.03, 0.722), (1198.11, 0.717),
    (1198.19, 0.705), (1198.28, 0.666), (1198.36, 0.638), (1198.45, 0.604), (1198.53, 0.570), (1198.61, 0.542),
    (1198.70, 0.508), (1198.78, 0.485), (1198.87, 0.465), (1198.95, 0.457), (1199.03, 0.463), (1199.12, 0.454),
    (1199.20, 0.448), (1199.29, 0.446), (1199.37, 0.446), (1199.46, 0.440), (1199.54, 0.420), (1199.62, 0.434),
    (1199.71, 0.443), (1199.79, 0.446), (1199.88, 0.460), (1199.96, 0.480), (1200.04, 0.513), (1200.13, 0.553),
    (1200.21, 0.592), (1200.29, 0.626), (1200.38, 0.655), (1200.46, 0.683), (1200.55, 0.711), (1200.63, 0.722),
    (1200.71, 0.722), (1200.80, 0.728), (1200.88, 0.739), (1200.97, 0.739), (1201.05, 0.745), (1201.14, 0.739),
    (1201.22, 0.745), (1201.30, 0.742), (1201.39, 0.748), (1201.47, 0.739), (1201.55, 0.745), (1201.64, 0.748),
    (1201.72, 0.745), (1201.81, 0.751), (1201.89, 0.751), (1201.97, 0.748), (1202.06, 0.739), (1202.14, 0.745),
    (1202.23, 0.748), (1202.31, 0.756), (1202.39, 0.767), (1202.48, 0.779), (1202.56, 0.790), (1202.65, 0.801),
    (1202.73, 0.813), (1202.81, 0.816), (1202.90, 0.807), (1202.95, 0.785),
]

far_model = [
    (1154.87, 1.000), (1159.45, 1.000), (1162.37, 0.999), (1163.02, 0.995), (1163.43, 0.989), (1163.67, 0.981),
    (1163.91, 0.971), (1164.07, 0.966), (1164.24, 0.966), (1164.48, 0.976), (1164.72, 0.988), (1164.97, 0.993),
    (1165.29, 0.995), (1165.78, 0.995), (1166.26, 0.994), (1166.67, 0.990), (1167.00, 0.984), (1167.32, 0.974),
    (1167.56, 0.958), (1167.80, 0.932), (1167.97, 0.901), (1168.13, 0.860), (1168.29, 0.813), (1168.45, 0.777),
    (1168.57, 0.746), (1168.66, 0.733), (1168.78, 0.741), (1168.89, 0.772), (1169.02, 0.818), (1169.15, 0.870),
    (1169.31, 0.912), (1169.51, 0.943), (1169.75, 0.968), (1170.08, 0.984), (1170.48, 0.992), (1171.13, 0.995),
    (1172.10, 0.997), (1172.75, 0.995), (1173.24, 0.993), (1173.65, 0.987), (1173.97, 0.976), (1174.21, 0.958),
    (1174.46, 0.922), (1174.70, 0.881), (1174.94, 0.849), (1175.19, 0.824), (1175.35, 0.805), (1175.51, 0.803),
    (1175.67, 0.818), (1175.92, 0.855), (1176.16, 0.886), (1176.40, 0.932), (1176.65, 0.968), (1176.97, 0.987),
    (1177.46, 0.995), (1178.27, 0.999), (1180.72, 1.000), (1181.39, 0.996), (1181.81, 0.991), (1182.15, 0.982),
    (1182.40, 0.971), (1182.60, 0.962), (1182.82, 0.958), (1183.04, 0.965), (1183.24, 0.982), (1183.49, 0.989),
    (1183.75, 0.982), (1184.00, 0.965), (1184.22, 0.954), (1184.38, 0.951), (1184.59, 0.965), (1184.79, 0.982),
    (1185.06, 0.993), (1185.43, 0.998), (1186.27, 0.998), (1186.77, 0.993), (1187.11, 0.985), (1187.36, 0.974),
    (1187.58, 0.954), (1187.74, 0.943), (1187.86, 0.940), (1188.03, 0.954), (1188.20, 0.977), (1188.45, 0.991),
    (1188.95, 0.999), (1191.64, 1.002), (1193.32, 1.000), (1194.08, 0.996), (1194.50, 0.988), (1194.75, 0.974),
    (1195.00, 0.948), (1195.20, 0.926), (1195.37, 0.914), (1195.54, 0.910), (1195.71, 0.920), (1195.93, 0.954),
    (1196.18, 0.982), (1196.51, 0.992), (1197.02, 0.993), (1197.52, 0.992), (1197.77, 0.988), (1198.03, 0.977),
    (1198.23, 0.965), (1198.45, 0.957), (1198.66, 0.968), (1198.90, 0.985), (1199.20, 0.996), (1200.04, 0.999),
    (1202.06, 1.000), (1203.00, 1.000),
]

legend_items = [("V1", "#808080"), ("V5", "#0000ff")]


def xs(pairs):
    return [p[0] for p in pairs]


def ys(pairs):
    return [p[1] for p in pairs]


# positions below are given in reference pixels and turned into paper fractions
def pxx(x):
    return x / W


def pxy(y):
    return 1 - y / H


GRAY = "#808080"
RED = "#ff0000"
BLUE = "#0000ff"

fig = go.Figure()

# upper panel
for data in [civ_v1, civ_v5]:
    fig.add_trace(go.Scatter(x=xs(data), y=ys(data), mode="lines", line=dict(color=GRAY, width=5),
                             xaxis="x", yaxis="y", showlegend=False, hoverinfo="skip"))
for data in [civ_v1_model, civ_v5_model]:
    fig.add_trace(go.Scatter(x=xs(data), y=ys(data), mode="lines",
                             line=dict(color=RED, width=4.5, shape="spline", smoothing=0.8),
                             xaxis="x", yaxis="y", showlegend=False, hoverinfo="skip"))

# lower panel
fig.add_trace(go.Scatter(x=xs(far_v1), y=ys(far_v1), mode="lines", name="V1",
                         line=dict(color=GRAY, width=5), xaxis="x2", yaxis="y2", showlegend=False))
fig.add_trace(go.Scatter(x=xs(far_v5), y=ys(far_v5), mode="lines", name="V5",
                         line=dict(color=BLUE, width=5.5), xaxis="x2", yaxis="y2", showlegend=False))
fig.add_trace(go.Scatter(x=xs(far_model), y=ys(far_model), mode="lines",
                         line=dict(color=RED, width=4.5, shape="spline", smoothing=0.8),
                         xaxis="x2", yaxis="y2", showlegend=False))

tickfont = dict(family=FONT, size=86, color="black")


def frame_axis(major, minor, minor_dtick, **kw):
    d = dict(showline=True, linewidth=5, linecolor="black", mirror="ticks",
             ticks="inside", ticklen=major, tickwidth=5, tickcolor="black",
             minor=dict(ticks="inside", ticklen=minor, tickwidth=5, tickcolor="black",
                        dtick=minor_dtick, showgrid=False),
             showgrid=False, zeroline=False, tickfont=tickfont)
    d.update(kw)
    return d


xdom = [pxx(312), pxx(2965)]
fig.update_layout(
    autosize=True,
    margin=dict(l=0, r=0, t=0, b=0),
    paper_bgcolor="white", plot_bgcolor="white",
    font=dict(family=FONT, color="black"),
    xaxis=frame_axis(100, 51, 1, domain=xdom, anchor="y", range=[1532, 1565],
                     tick0=1535, dtick=5, ticklabelstandoff=-16),
    yaxis=frame_axis(100, 52, 0.1, domain=[pxy(2490), pxy(218)], anchor="x", range=[0, 1.6],
                     tick0=0, dtick=0.5, tickformat=".1f", ticklabelstandoff=26),
    xaxis2=frame_axis(78, 40, 1, domain=xdom, anchor="y2", range=[1154.8, 1203],
                      tick0=1160, dtick=10, ticklabelstandoff=-16),
    yaxis2=frame_axis(80, 42, 0.1, domain=[pxy(4063), pxy(2708)], anchor="x2", range=[0.2, 1.2],
                      tick0=0, dtick=0.5, tickformat=".1f", ticklabelstandoff=26),
)

annotations = []
shapes = []

# axis titles
for yc in [1352, 3386]:
    annotations.append(dict(text="Relative flux", x=pxx(50), y=pxy(yc), xref="paper", yref="paper",
                            textangle=-90, showarrow=False, xanchor="center", yanchor="middle",
                            font=dict(family=FONT, size=88, color="black")))
annotations.append(dict(text="Wavelength (Å)", x=pxx(1636), y=pxy(4240), xref="paper", yref="paper",
                        showarrow=False, xanchor="center", yanchor="middle",
                        font=dict(family=FONT, size=88, color="black")))

# interstellar line marks
for wl in is_marks:
    shapes.append(dict(type="line", xref="x", yref="y", x0=wl, x1=wl, y0=1.30, y1=1.38,
                       line=dict(color="black", width=5)))
    annotations.append(dict(text=is_text, x=wl, y=1.41, xref="x", yref="y", textangle=-90,
                            showarrow=False, xanchor="center", yanchor="bottom",
                            font=dict(family=FONT, size=78, color="black")))

for label, wl, fl in star_labels:
    annotations.append(dict(text=label, x=wl, y=fl, xref="x", yref="y", showarrow=False,
                            xanchor="center", yanchor="middle",
                            font=dict(family=FONT, size=90, color="black")))

# legend box with drop shadow (lower panel)
shapes.append(dict(type="rect", xref="paper", yref="paper", x0=pxx(451), x1=pxx(822), y0=pxy(3552), y1=pxy(3804),
                   fillcolor="black", line=dict(color="#888888", width=2), layer="above"))
shapes.append(dict(type="rect", xref="paper", yref="paper", x0=pxx(418), x1=pxx(809), y0=pxy(3522), y1=pxy(3787),
                   fillcolor="white", line=dict(color="black", width=5), layer="above"))
for i, (label, color) in enumerate(legend_items):
    yc = 3604 + i * 102
    shapes.append(dict(type="line", xref="paper", yref="paper", x0=pxx(447), x1=pxx(609), y0=pxy(yc), y1=pxy(yc),
                       line=dict(color=color, width=5), layer="above"))
    annotations.append(dict(text=label, x=pxx(632), y=pxy(yc + 4), xref="paper", yref="paper", showarrow=False,
                            xanchor="left", yanchor="middle", font=dict(family=FONT, size=84, color="black")))

fig.update_layout(annotations=annotations, shapes=shapes)

# size the figure to the browser window so nothing falls below the visible area
fig.write_html("out.html", config={"responsive": True},
               default_width="100%", default_height="calc(100vh - 16px)")
